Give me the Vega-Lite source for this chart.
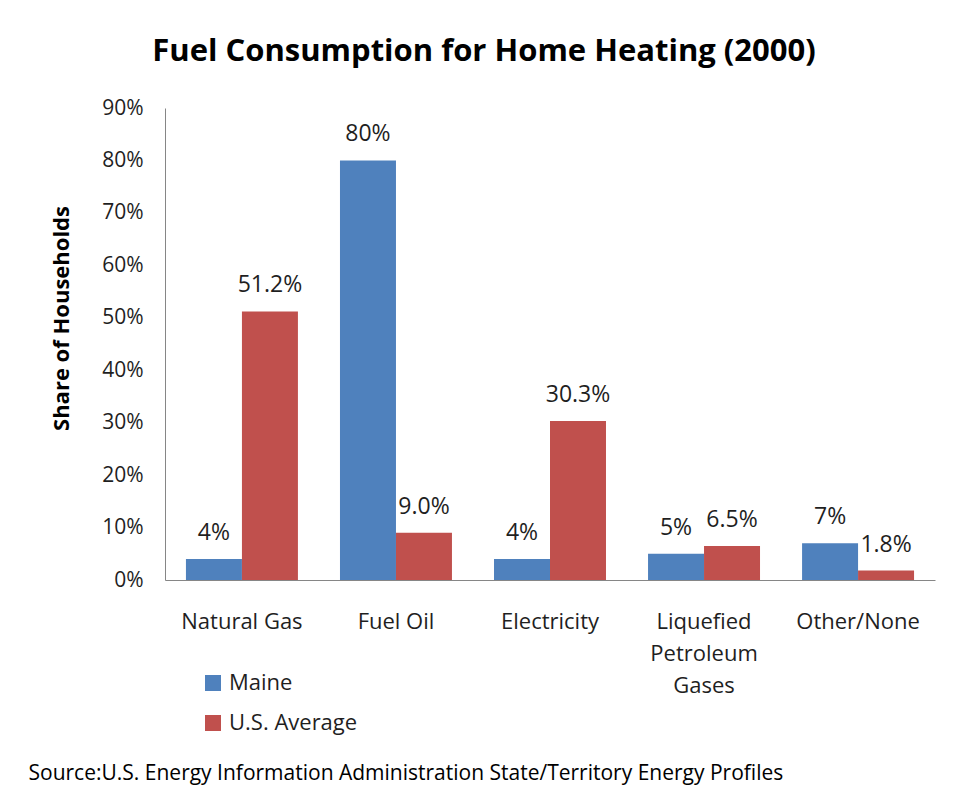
{
  "$schema": "https://vega.github.io/schema/vega-lite/v6.json",
  "width": 770,
  "height": 472,
  "autosize": {"type": "none"},
  "padding": {"left": 165, "top": 108, "right": 29, "bottom": 213},
  "background": "white",
  "config": {
    "font": "Open Sans",
    "view": {"stroke": null}
  },
  "title": {
    "text": "Fuel Consumption for Home Heating (2000)",
    "font": "Open Sans",
    "fontSize": 31,
    "fontWeight": "bold",
    "color": "#000000",
    "anchor": "middle",
    "frame": "group",
    "dx": -66,
    "baseline": "alphabetic",
    "offset": 5
  },
  "data": {
    "values": [
      {"fuel": "Natural Gas", "series": "Maine", "value": 4, "label": "4%"},
      {"fuel": "Natural Gas", "series": "U.S. Average", "value": 51.2, "label": "51.2%"},
      {"fuel": "Fuel Oil", "series": "Maine", "value": 80, "label": "80%"},
      {"fuel": "Fuel Oil", "series": "U.S. Average", "value": 9.0, "label": "9.0%"},
      {"fuel": "Electricity", "series": "Maine", "value": 4, "label": "4%"},
      {"fuel": "Electricity", "series": "U.S. Average", "value": 30.3, "label": "30.3%"},
      {"fuel": "Liquefied Petroleum Gases", "series": "Maine", "value": 5, "label": "5%"},
      {"fuel": "Liquefied Petroleum Gases", "series": "U.S. Average", "value": 6.5, "label": "6.5%"},
      {"fuel": "Other/None", "series": "Maine", "value": 7, "label": "7%"},
      {"fuel": "Other/None", "series": "U.S. Average", "value": 1.8, "label": "1.8%"}
    ]
  },
  "encoding": {
    "x": {
      "field": "fuel",
      "type": "nominal",
      "sort": null,
      "scale": {"paddingInner": 0.273, "paddingOuter": 0.136},
      "axis": {
        "title": "Source:U.S. Energy Information Administration State/Territory Energy Profiles",
        "titleFont": "Open Sans",
        "titleFontSize": 21,
        "titleFontWeight": "normal",
        "titleColor": "#000000",
        "titleX": -137,
        "titleY": 193,
        "titleAlign": "left",
        "titleBaseline": "middle",
        "labelAngle": 0,
        "labelFont": "Open Sans",
        "labelFontSize": 22,
        "labelColor": "#1f1f1f",
        "labelPadding": 31,
        "labelLineHeight": 32,
        "labelBaseline": "top",
        "labelExpr": "datum.value == 'Liquefied Petroleum Gases' ? ['Liquefied', 'Petroleum', 'Gases'] : datum.value",
        "ticks": false,
        "domainColor": "#868686",
        "domainWidth": 1,
        "grid": false
      }
    },
    "xOffset": {"field": "series", "type": "nominal", "scale": {"paddingInner": 0, "paddingOuter": 0}},
    "y": {
      "field": "value",
      "type": "quantitative",
      "scale": {"domain": [0, 90], "nice": false},
      "axis": {
        "title": "Share of Households",
        "titleFont": "Open Sans",
        "titleFontSize": 22,
        "titleFontWeight": "bold",
        "titleColor": "#000000",
        "titleX": -97,
        "titleY": 210,
        "titleAlign": "center",
        "titleBaseline": "alphabetic",
        "titleAngle": -90,
        "values": [0, 10, 20, 30, 40, 50, 60, 70, 80, 90],
        "labelExpr": "datum.value + '%'",
        "labelFont": "Open Sans",
        "labelFontSize": 21,
        "labelColor": "#1f1f1f",
        "labelPadding": 22,
        "ticks": false,
        "grid": false,
        "domainColor": "#868686",
        "domainWidth": 1
      }
    },
    "color": {
      "field": "series",
      "type": "nominal",
      "scale": {"domain": ["Maine", "U.S. Average"], "range": ["#4F81BD", "#C0504D"]},
      "legend": {
        "title": null,
        "orient": "none",
        "legendX": 37,
        "legendY": 564,
        "symbolType": "square",
        "symbolSize": 256,
        "symbolStrokeWidth": 0,
        "labelFont": "Open Sans",
        "labelFontSize": 22,
        "labelColor": "#1f1f1f",
        "labelOffset": 5,
        "rowPadding": 18,
        "padding": 0
      }
    }
  },
  "layer": [
    {"mark": {"type": "bar"}},
    {
      "mark": {"type": "text", "font": "Open Sans", "fontSize": 23, "baseline": "alphabetic", "dy": -19},
      "encoding": {
        "text": {"field": "label"},
        "color": {"value": "#1f1f1f"}
      }
    }
  ]
}
